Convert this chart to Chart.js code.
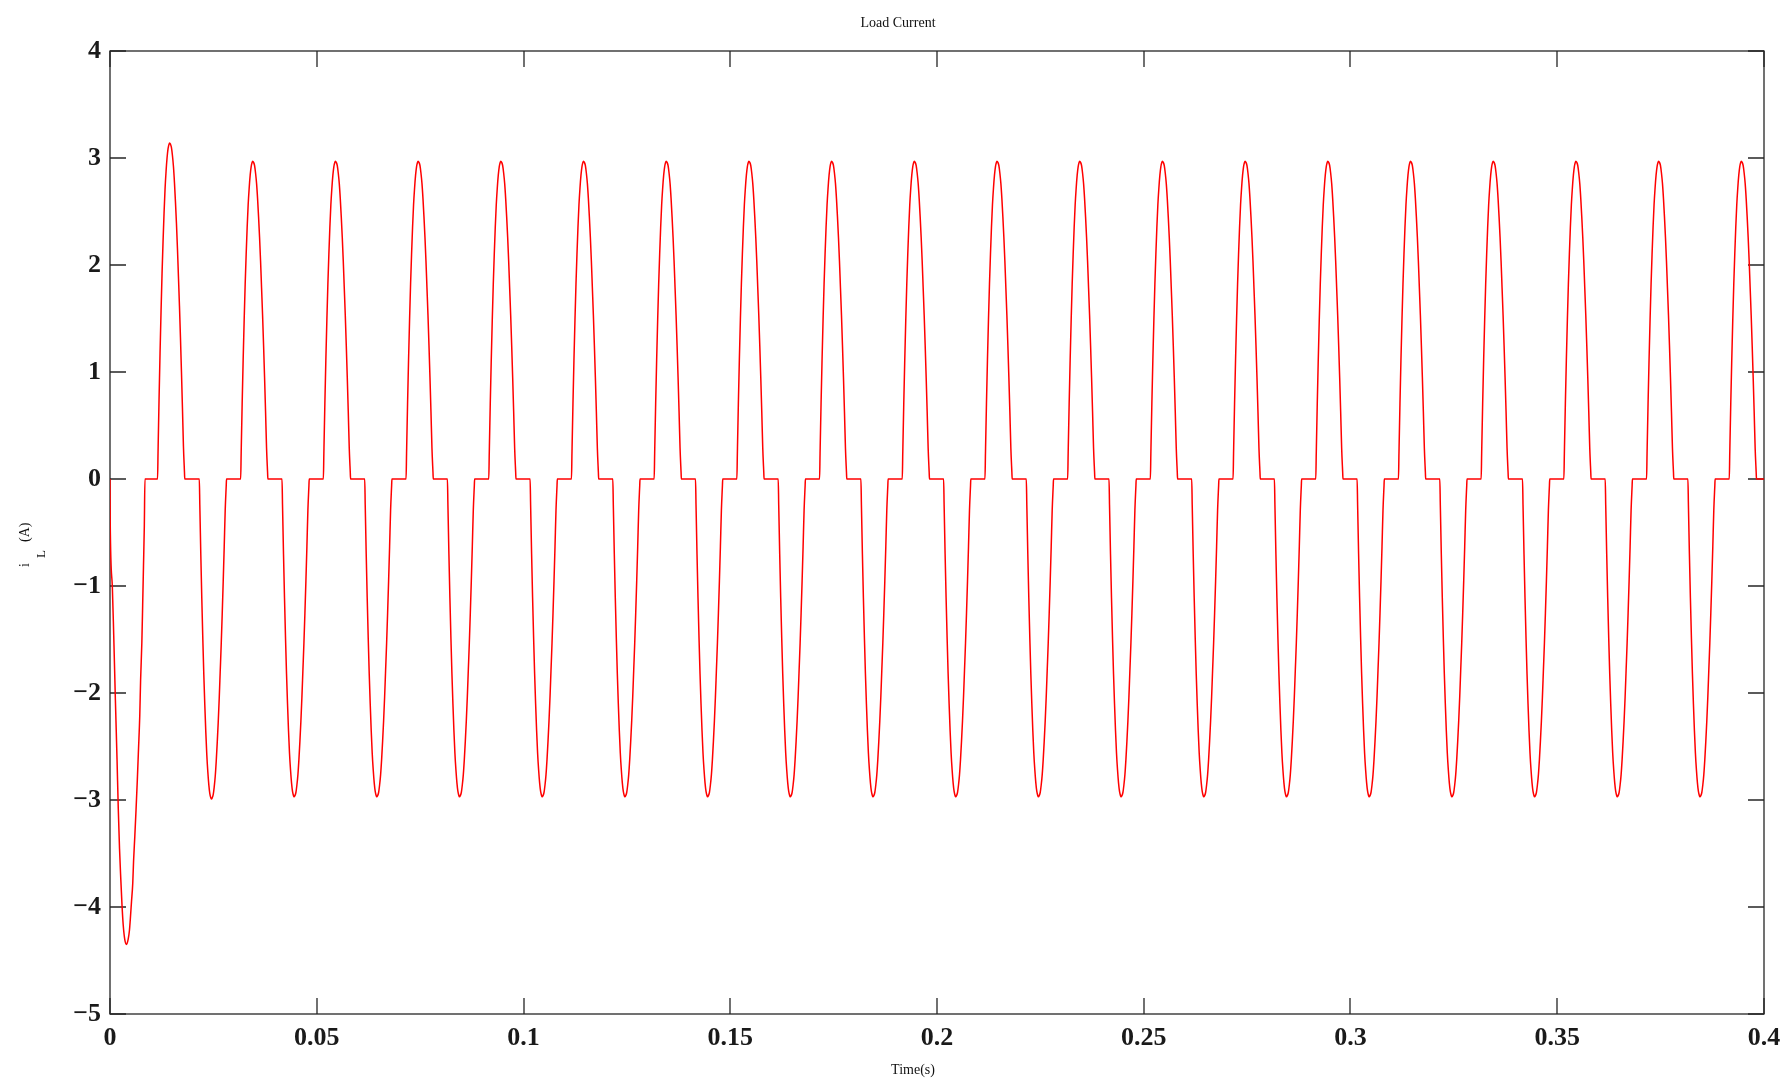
<!DOCTYPE html>
<html>
<head>
<meta charset="utf-8">
<title>Load Current</title>
<script src="https://cdn.jsdelivr.net/npm/chart.js@4.4.1/dist/chart.umd.min.js"></script>
<style>
  html, body { margin: 0; padding: 0; background: #fff; }
  canvas { display: block; }
</style>
</head>
<body>
<canvas id="grafico" width="1792" height="1087"></canvas>
<script>
// DADOS
// transitório inicial: primeiro semiciclo negativo
const transientTime = [0, 0.00005, 0.00056, 0.0009, 0.0013, 0.0017, 0.0020, 0.0023, 0.0026, 0.0029,
  0.0032, 0.0036, 0.0040, 0.0044, 0.0047, 0.0049, 0.0052, 0.0055, 0.0057, 0.0060,
  0.0063, 0.0066, 0.0069, 0.0072, 0.0074, 0.0077, 0.0079, 0.0081, 0.0083, 0.00845];
const transientCurrent = [0, -0.4, -1.0, -1.46, -2.06, -2.62, -3.08, -3.45, -3.73, -3.98,
  -4.17, -4.31, -4.35, -4.30, -4.22, -4.12, -3.95, -3.78, -3.57, -3.34,
  -3.09, -2.82, -2.52, -2.21, -1.88, -1.53, -1.18, -0.81, -0.44, 0];

// forma de um pulso de corrente em regime (pico 2.97 A), tempo em ms desde o disparo
const pulseOffsetMs = [0, 0.12, 0.36, 0.60, 0.85, 1.09, 1.33, 1.57, 1.81, 2.06,
  2.30, 2.54, 2.78, 2.90, 3.12, 3.36, 3.60, 3.85, 4.09, 4.33,
  4.57, 4.81, 5.05, 5.30, 5.54, 5.78, 6.02, 6.26, 6.51, 6.58];
const pulseCurrent = [0, 0.24, 0.70, 1.11, 1.49, 1.82, 2.10, 2.35, 2.56, 2.72,
  2.84, 2.92, 2.96, 2.97, 2.96, 2.93, 2.86, 2.76, 2.62, 2.45,
  2.26, 2.04, 1.79, 1.53, 1.25, 0.95, 0.63, 0.29, 0.06, 0];
const pulseRef = 2.97;

// instante de disparo de cada pulso (s) e seu pico (A)
const pulseStart = [0.0115, 0.0216, 0.0316, 0.0416, 0.0516, 0.0616, 0.0716, 0.0816, 0.0916, 0.1016,
  0.1116, 0.1216, 0.1316, 0.1416, 0.1516, 0.1616, 0.1716, 0.1816, 0.1916, 0.2016,
  0.2116, 0.2216, 0.2316, 0.2416, 0.2516, 0.2616, 0.2716, 0.2816, 0.2916, 0.3016,
  0.3116, 0.3216, 0.3316, 0.3416, 0.3516, 0.3616, 0.3716, 0.3816, 0.3916];
const pulsePeak = [3.14, -2.99, 2.97, -2.97, 2.97, -2.97, 2.97, -2.97, 2.97, -2.97,
  2.97, -2.97, 2.97, -2.97, 2.97, -2.97, 2.97, -2.97, 2.97, -2.97,
  2.97, -2.97, 2.97, -2.97, 2.97, -2.97, 2.97, -2.97, 2.97, -2.97,
  2.97, -2.97, 2.97, -2.97, 2.97, -2.97, 2.97, -2.97, 2.97];

const endTime = 0.4;
const xTickLabels = ["0", "0.05", "0.1", "0.15", "0.2", "0.25", "0.3", "0.35", "0.4"];
const yTickLabels = ["\u22125", "\u22124", "\u22123", "\u22122", "\u22121", "0", "1", "2", "3", "4"];

// monta a série
const pontos = [];
transientTime.forEach((t, i) => pontos.push({ x: t, y: transientCurrent[i] }));
pulseStart.forEach((t0, k) => {
  const escala = pulsePeak[k] / pulseRef;
  pulseOffsetMs.forEach((ms, i) => {
    pontos.push({ x: t0 + ms / 1000, y: pulseCurrent[i] * escala });
  });
});
pontos.push({ x: endTime, y: 0 });

const fonteSerif = '"Liberation Serif", "DejaVu Serif", serif';

// moldura, marcas internas e textos
const moldura = {
  id: "moldura",
  beforeDatasetsDraw(chart) {
    const { ctx, chartArea: a, scales } = chart;
    const tam = 16;
    ctx.save();
    ctx.strokeStyle = "#262626";
    ctx.lineWidth = 1.3;
    ctx.beginPath();
    scales.x.ticks.forEach(t => {
      const px = Math.round(scales.x.getPixelForValue(t.value));
      ctx.moveTo(px, a.bottom); ctx.lineTo(px, a.bottom - tam);
      ctx.moveTo(px, a.top); ctx.lineTo(px, a.top + tam);
    });
    scales.y.ticks.forEach(t => {
      const py = Math.round(scales.y.getPixelForValue(t.value));
      ctx.moveTo(a.left, py); ctx.lineTo(a.left + tam, py);
      ctx.moveTo(a.right, py); ctx.lineTo(a.right - tam, py);
    });
    ctx.stroke();
    ctx.strokeRect(a.left, a.top, a.right - a.left, a.bottom - a.top);
    ctx.restore();
  },
  afterDraw(chart) {
    const ctx = chart.ctx;
    ctx.save();
    ctx.fillStyle = "#111";
    ctx.font = "14px " + fonteSerif;
    ctx.textAlign = "center";
    ctx.textBaseline = "alphabetic";
    ctx.fillText("Load Current", 898, 27);
    ctx.fillText("Time(s)", 913, 1074);

    // rótulo do eixo y: i_L (A)
    ctx.translate(29, 567);
    ctx.rotate(-Math.PI / 2);
    ctx.textAlign = "left";
    ctx.font = "14px " + fonteSerif;
    ctx.fillText("i", 0, 0);
    ctx.font = "13px " + fonteSerif;
    ctx.fillText("L", 9, 16);
    ctx.font = "14px " + fonteSerif;
    ctx.fillText("(A)", 25, 0);
    ctx.restore();
  }
};

const ctx = document.getElementById("grafico");

new Chart(ctx, {
  type: "line",
  data: {
    datasets: [
      {
        label: "Load Current",
        data: pontos,
        borderColor: "#ff0000",
        borderWidth: 1.5,
        pointRadius: 0,
        cubicInterpolationMode: "monotone",
        fill: false
      }
    ]
  },
  options: {
    responsive: false,
    animation: false,
    devicePixelRatio: 1,
    layout: { padding: { left: 0, top: 51, right: 28, bottom: 0 } },
    plugins: {
      legend: { display: false },
      title: { display: false },
      tooltip: { enabled: false }
    },
    scales: {
      x: {
        type: "linear",
        min: 0,
        max: endTime,
        grid: { display: false, drawTicks: false },
        border: { display: false },
        ticks: {
          stepSize: 0.05,
          autoSkip: false,
          maxRotation: 0,
          padding: 9,
          color: "#1a1a1a",
          font: { family: fonteSerif, size: 26, weight: "bold" },
          callback: (v, i) => xTickLabels[i]
        },
        afterFit: s => { s.height = 73; }
      },
      y: {
        min: -5,
        max: 4,
        grid: { display: false, drawTicks: false },
        border: { display: false },
        ticks: {
          stepSize: 1,
          autoSkip: false,
          padding: 9,
          color: "#1a1a1a",
          font: { family: fonteSerif, size: 26, weight: "bold" },
          callback: (v, i) => yTickLabels[i]
        },
        afterFit: s => { s.width = 110; }
      }
    }
  },
  plugins: [moldura]
});
</script>
</body>
</html>
